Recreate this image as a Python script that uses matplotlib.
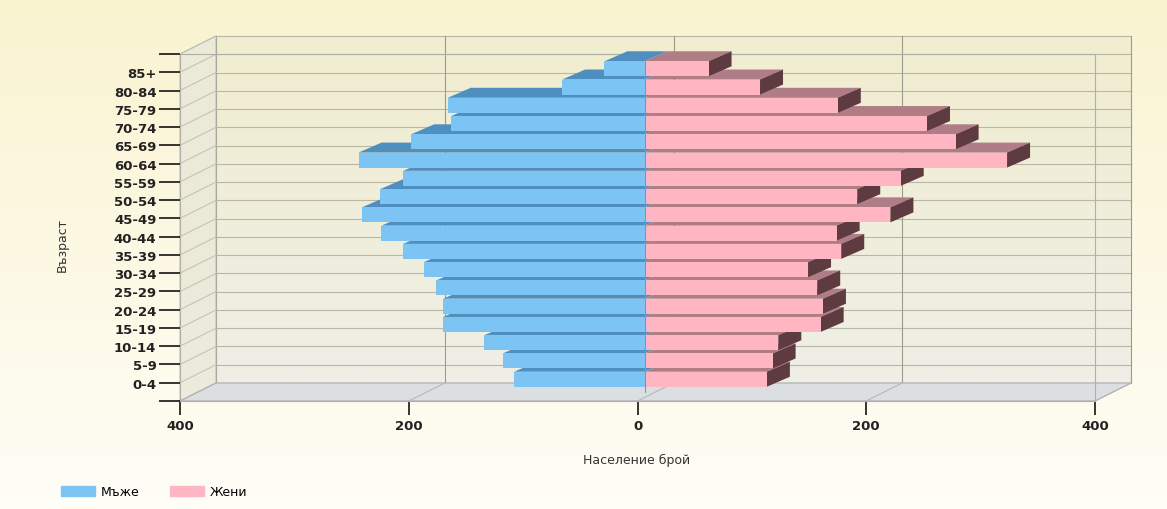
import numpy as np
import matplotlib.pyplot as plt
from matplotlib.patches import Polygon, Patch

# Age groups and population counts
ages = ['0-4', '5-9', '10-14', '15-19', '20-24', '25-29', '30-34', '35-39', '40-44',
        '45-49', '50-54', '55-59', '60-64', '65-69', '70-74', '75-79', '80-84', '85+']
men = [114, 124, 140, 176, 176, 182, 193, 211, 230, 247, 231, 211, 250, 204, 169, 172, 72, 35]
women = [107, 112, 117, 154, 156, 151, 143, 172, 168, 215, 186, 224, 317, 272, 247, 169, 101, 56]
xticks = [-400, -200, 0, 200, 400]
xticklabels = ['400', '200', '0', '200', '400']

W, H = 11.67, 5.10
fig = plt.figure(figsize=(W, H), dpi=100)

# page background gradient
bg = fig.add_axes([0, 0, 1, 1], zorder=-5)
grad = np.linspace(0, 1, 256).reshape(-1, 1)
top_c = np.array([250, 243, 208]) / 255
bot_c = np.array([255, 254, 247]) / 255
bg.imshow(top_c + (bot_c - top_c) * grad[:, :, None], aspect='auto', extent=[0, 1, 0, 1])
bg.axis('off')

# front plane of the chart (pixel layout of the reference)
left_px, right_px, top_px, bot_px = 180, 1095, 55, 402
ax = fig.add_axes([left_px / 1167, (510 - bot_px) / 510,
                   (right_px - left_px) / 1167, (bot_px - top_px) / 510])
ax.set_facecolor('none')
xmin, xmax, ymin, ymax = -400, 400, -1, 18
ppx = (right_px - left_px) / (xmax - xmin)
ppy = (bot_px - top_px) / (ymax - ymin)

# depth offsets, in data units
wdx, wdy = 36 / ppx, 18 / ppy      # back wall
fdx, fdy = 7 / ppx, 3.5 / ppy      # bar front face
bdx, bdy = 23 / ppx, 10 / ppy      # bar depth
bh = 15 / ppy

# back wall with gradient
wall = np.array([[241, 237, 208], [239, 239, 230]]) / 255
ax.imshow(wall[0] + (wall[1] - wall[0]) * grad[:, :, None], aspect='auto',
          extent=[xmin + wdx, xmax + wdx, ymin + wdy, ymax + wdy], zorder=0.5, clip_on=False)
for yv in range(ymin, ymax + 1):
    ax.plot([xmin + wdx, xmax + wdx], [yv + wdy, yv + wdy], color='#b9b7a6', lw=0.8,
            zorder=0.6, clip_on=False)
    ax.plot([xmin, xmin + wdx], [yv, yv + wdy], color='#c4c4b6', lw=0.8, zorder=0.7, clip_on=False)
for xv in xticks:
    ax.plot([xv + wdx, xv + wdx], [ymin + wdy, ymax + wdy], color='#9c9a8c', lw=0.8,
            zorder=0.6, clip_on=False)

# left side wall
side = Polygon([[xmin, ymin], [xmin, ymax], [xmin + wdx, ymax + wdy], [xmin + wdx, ymin + wdy]],
               closed=True, facecolor='#e9e8d8', edgecolor='#b8b8b0', lw=0.8, zorder=0.65,
               clip_on=False, alpha=0.85)
ax.add_patch(side)

# floor
floor = Polygon([[xmin, ymin], [xmax, ymin], [xmax + wdx, ymin + wdy], [xmin + wdx, ymin + wdy]],
                closed=True, facecolor='#dcdfe2', edgecolor='#a9abb0', lw=0.8, zorder=0.8,
                clip_on=False)
ax.add_patch(floor)
for xv in xticks:
    ax.plot([xv, xv + wdx], [ymin, ymin + wdy], color='#b6b8bc', lw=0.8, zorder=0.85, clip_on=False)

# bars, drawn bottom to top so upper bars hide lower top faces
y = np.arange(len(ages))
blue_f, blue_t = '#7cc4f4', '#4f8fc0'
pink_f, pink_t, pink_s = '#ffb5c2', '#b07d86', '#5e3b40'
for i in y:
    z = 2 + i * 0.1
    yb = i + fdy - bh / 2
    yt = i + fdy + bh / 2
    L = -men[i] + fdx
    R = women[i] + fdx
    ax.add_patch(Polygon([[L, yt], [fdx, yt], [fdx + bdx, yt + bdy], [L + bdx, yt + bdy]],
                         facecolor=blue_t, edgecolor='none', zorder=z, clip_on=False))
    ax.add_patch(Polygon([[fdx, yt], [R, yt], [R + bdx, yt + bdy], [fdx + bdx, yt + bdy]],
                         facecolor=pink_t, edgecolor='none', zorder=z, clip_on=False))
    ax.add_patch(Polygon([[R, yb], [R + bdx, yb + bdy], [R + bdx, yt + bdy], [R, yt]],
                         facecolor=pink_s, edgecolor='none', zorder=z, clip_on=False))
    bm = ax.barh(i + fdy, -men[i], left=fdx, height=bh, color=blue_f, zorder=z + 0.01)
    bw = ax.barh(i + fdy, women[i], left=fdx, height=bh, color=pink_f, zorder=z + 0.01)
    for b in list(bm) + list(bw):
        b.set_clip_on(False)
ax.plot([fdx, fdx], [-0.5, 17.5 + fdy], color='#6a9cc4', lw=0.8, zorder=5, clip_on=False)

ax.set_xlim(xmin, xmax)
ax.set_ylim(ymin, ymax)
for s in ax.spines.values():
    s.set_color('#b0b0a8')
    s.set_linewidth(0.8)
ax.set_yticks(range(ymin, ymax + 1))
ax.set_yticklabels([''] + ages + [''])
ax.set_xticks(xticks)
ax.set_xticklabels(xticklabels)
ax.tick_params(axis='y', length=15, width=1.1, pad=2, labelsize=9.5, colors='black')
ax.tick_params(axis='x', length=10, width=1.1, pad=3, labelsize=9.5)
for t in ax.get_yticklabels() + ax.get_xticklabels():
    t.set_fontweight('bold')
    t.set_color('#222222')

fig.text(62 / 1167, 1 - 245 / 510, 'Възраст', rotation=90, ha='center', va='center',
         fontsize=9, color='#333333')
fig.text(637 / 1167, 1 - 460 / 510, 'Население брой', ha='center', va='center',
         fontsize=9, color='#333333')

handles = [Patch(color=blue_f, label='Мъже'), Patch(color=pink_f, label='Жени')]
fig.legend(handles=handles, loc='center left', bbox_to_anchor=(50 / 1167, 1 - 493 / 510),
           ncol=2, frameon=False, fontsize=9, handlelength=2.7, handleheight=0.9,
           handletextpad=0.5, columnspacing=2.4)

plt.savefig('out.png', dpi=100)
